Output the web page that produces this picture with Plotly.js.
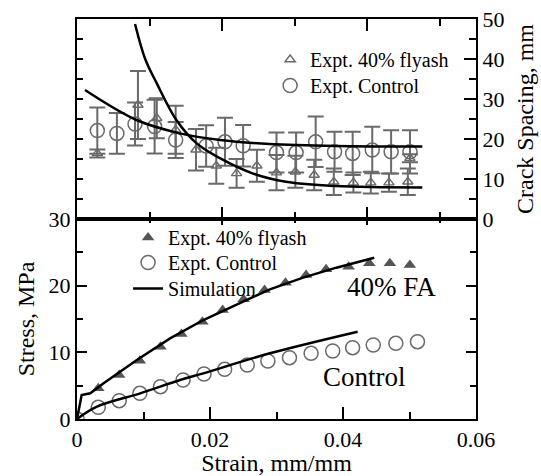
<!DOCTYPE html>
<html>
<head>
<meta charset="utf-8">
<script src="https://cdn.plot.ly/plotly-3.0.1.min.js"></script>
<style>html,body{margin:0;padding:0;background:#fff;}#chart{width:541px;height:476px;}</style>
</head>
<body>
<div id="chart"></div>
<script>
// ---------- Bottom panel: stress vs strain ----------
var faStrain   = [0.0032, 0.00635, 0.00945, 0.01255, 0.0157, 0.01885, 0.0219, 0.02505, 0.0282, 0.03135, 0.03445, 0.03745, 0.04085, 0.04395, 0.04705, 0.05005];
var faStress   = [4.6, 6.6, 8.75, 10.85, 12.75, 14.6, 16.35, 17.95, 19.35, 20.45, 21.6, 22.45, 22.85, 23.35, 23.35, 23.1];
var ctlStrain  = [0, 0.0032, 0.00635, 0.00945, 0.01255, 0.01595, 0.0191, 0.0222, 0.0256, 0.0287, 0.03195, 0.0352, 0.03845, 0.04145, 0.04455, 0.04795, 0.0512];
var ctlStress  = [0, 1.75, 2.75, 3.85, 4.85, 5.85, 6.75, 7.45, 8.1, 8.7, 9.2, 9.85, 10.2, 10.7, 11.1, 11.35, 11.6];
var simFaStrain  = [0, 0.0007, 0.002, 0.004, 0.009, 0.014, 0.019, 0.024, 0.029, 0.034, 0.039, 0.0447];
var simFaStress  = [0, 3.6, 3.85, 5.35, 8.85, 12.1, 14.85, 17.2, 19.45, 21.2, 22.7, 24.2];
var simCtlStrain = [0, 0.003, 0.0095, 0.0155, 0.019, 0.029, 0.0422];
var simCtlStress = [0, 1.85, 3.85, 5.85, 6.85, 9.85, 13.1];

// ---------- Top panel: crack spacing vs strain ----------
var csFaStrain  = [0.0028, 0.0084, 0.0110, 0.0136, 0.0164, 0.0192, 0.0220, 0.0248, 0.0275, 0.0301, 0.0327, 0.0354, 0.0381, 0.0405, 0.0430, 0.0456, 0.0459];
var csFaSpacing = [16.4, 28.5, 25.2, 22.3, 17.3, 13.3, 11.4, 13.3, 11.6, 11.8, 11.0, 9.3, 9.1, 9.1, 9.1, 9.3, 15.2];
var csFaErr     = [1.0, 8.5, 5.0, 6.0, 5.2, 4.5, 3.6, 4.0, 4.4, 4.0, 3.8, 3.3, 2.5, 2.7, 2.3, 3.3, 1.0];
var csCtlStrain  = [0.0028, 0.0055, 0.0080, 0.0107, 0.0136, 0.0178, 0.0204, 0.0229, 0.0275, 0.0302, 0.0329, 0.0355, 0.0380, 0.0407, 0.0433, 0.0459];
var csCtlSpacing = [22.1, 21.4, 23.75, 23.1, 19.75, 18.25, 19.3, 18.3, 16.6, 16.6, 19.3, 16.8, 16.4, 17.25, 16.8, 16.8];
var csCtlErr     = [5.8, 5.1, 5.4, 6.7, 4.5, 5.2, 6.0, 5.2, 5.0, 5.0, 6.3, 5.0, 5.4, 5.8, 5.4, 5.4];
var csSimCtlStrain  = [0.0011, 0.0082, 0.0142, 0.0197, 0.0265, 0.0357, 0.0476];
var csSimCtlSpacing = [32.25, 24.75, 21.4, 19.75, 18.75, 18.25, 18.1];
var csSimFaStrain  = [0.0080, 0.0094, 0.0110, 0.0137, 0.0165, 0.0197, 0.0242, 0.0288, 0.0357, 0.0476];
var csSimFaSpacing = [48.75, 40.0, 33.9, 24.75, 18.9, 15.2, 11.4, 9.3, 8.25, 7.9];

var xTickVals = [0, 0.02, 0.04, 0.06];
var xTickText = ['0', '0.02', '0.04', '0.06'];

var FONT = 'Liberation Serif';
var GRAY = '#6a6a6a';
var ERR = {type: 'data', visible: true, color: '#6a6a6a', thickness: 2, width: 8};

var traces = [
  // top panel
  {x: csCtlStrain, y: csCtlSpacing, xaxis: 'x2', yaxis: 'y2', mode: 'markers', name: 'Expt. Control', legend: 'legend2',
   marker: {symbol: 'circle-open', size: 14, color: GRAY, line: {width: 1.5, color: GRAY}},
   error_y: Object.assign({array: csCtlErr}, ERR)},
  {x: csFaStrain, y: csFaSpacing, xaxis: 'x2', yaxis: 'y2', mode: 'markers', name: 'Expt. 40% flyash', legend: 'legend',
   marker: {symbol: 'triangle-up-open', size: 9, color: GRAY, line: {width: 1.4, color: GRAY}},
   error_y: Object.assign({array: csFaErr}, ERR)},
  {x: csSimCtlStrain, y: csSimCtlSpacing, xaxis: 'x2', yaxis: 'y2', mode: 'lines', showlegend: false,
   line: {color: '#000', width: 2.5, shape: 'spline'}},
  {x: csSimFaStrain, y: csSimFaSpacing, xaxis: 'x2', yaxis: 'y2', mode: 'lines', showlegend: false,
   line: {color: '#000', width: 2.5, shape: 'spline'}},
  // empty helpers so the right axis and the crossing ticks are drawn
  {x: [null], y: [null], xaxis: 'x2', yaxis: 'y3', showlegend: false, hoverinfo: 'skip'},
  {x: [null], y: [null], xaxis: 'x3', yaxis: 'y', showlegend: false, hoverinfo: 'skip'},
  // bottom panel
  {x: faStrain, y: faStress, xaxis: 'x', yaxis: 'y', mode: 'markers', name: 'Expt. 40% flyash', legend: 'legend3',
   marker: {symbol: 'triangle-up', size: 11, color: '#555', line: {width: 0}}},
  {x: ctlStrain, y: ctlStress, xaxis: 'x', yaxis: 'y', mode: 'markers', name: 'Expt. Control', legend: 'legend4',
   marker: {symbol: 'circle-open', size: 14, color: GRAY, line: {width: 1.5, color: GRAY}}},
  {x: simFaStrain, y: simFaStress, xaxis: 'x', yaxis: 'y', mode: 'lines', name: 'Simulation', legend: 'legend5',
   line: {color: '#000', width: 2.5}},
  {x: simCtlStrain, y: simCtlStress, xaxis: 'x', yaxis: 'y', mode: 'lines', showlegend: false,
   line: {color: '#000', width: 2.5, shape: 'spline'}}
];

var tickFont = {family: FONT, size: 22, color: '#000'};
var titleFont = {family: FONT, size: 24, color: '#000'};
function leg(x, y) {
  return {x: x, y: y, xanchor: 'left', yanchor: 'top', bgcolor: 'rgba(0,0,0,0)',
    font: {family: FONT, size: 20, color: '#000'}};
}

var layout = {
  width: 541, height: 476,
  margin: {l: 77, r: 65, t: 19, b: 57},
  paper_bgcolor: '#fff', plot_bgcolor: '#fff',
  font: {family: FONT, color: '#000'},
  xaxis: {domain: [0, 1], anchor: 'y', range: [0, 0.06], tickvals: xTickVals, ticktext: xTickText,
    ticks: 'inside', ticklen: 12, tickwidth: 2, tickcolor: '#000',
    minor: {dtick: 0.01, tick0: 0, ticks: 'inside', ticklen: 7, tickwidth: 2, tickcolor: '#000'},
    showline: true, linewidth: 2, linecolor: '#000', mirror: true, showgrid: false, zeroline: false,
    tickfont: tickFont, title: {text: 'Strain, mm/mm', font: titleFont, standoff: 2}},
  yaxis: {domain: [0, 0.5], anchor: 'x', range: [0, 30], dtick: 10, tick0: 0,
    ticks: 'inside', ticklen: 10, tickwidth: 2, tickcolor: '#000',
    minor: {dtick: 5, ticks: 'inside', ticklen: 6, tickwidth: 2, tickcolor: '#000'},
    showline: true, linewidth: 2, linecolor: '#000', mirror: 'ticks', showgrid: false, zeroline: false,
    tickfont: tickFont, title: {text: 'Stress, MPa', font: titleFont, standoff: 7}},
  xaxis2: {domain: [0, 1], anchor: 'y2', range: [0, 0.055], dtick: 0.02, tick0: 0, showticklabels: false,
    ticks: 'inside', ticklen: 12, tickwidth: 2, tickcolor: '#000',
    minor: {dtick: 0.01, tick0: 0, ticks: 'inside', ticklen: 7, tickwidth: 2, tickcolor: '#000'},
    showline: true, linewidth: 2, linecolor: '#000', mirror: 'ticks', showgrid: false, zeroline: false},
  xaxis3: {overlaying: 'x', anchor: 'y', side: 'top', range: [0, 0.055], dtick: 0.02, tick0: 0, showticklabels: false,
    ticks: 'inside', ticklen: 6, tickwidth: 2, tickcolor: '#000',
    minor: {dtick: 0.01, tick0: 0, ticks: 'inside', ticklen: 4, tickwidth: 2, tickcolor: '#000'},
    showline: false, showgrid: false, zeroline: false},
  yaxis2: {domain: [0.5, 1], anchor: 'x2', range: [0, 50], dtick: 5, tick0: 0, showticklabels: false,
    ticks: 'inside', ticklen: 6, tickwidth: 2, tickcolor: '#000',
    showline: true, linewidth: 2, linecolor: '#000', showgrid: false, zeroline: false},
  yaxis3: {overlaying: 'y2', anchor: 'x2', side: 'right', range: [0, 50], dtick: 10, tick0: 0,
    ticks: 'inside', ticklen: 12, tickwidth: 2, tickcolor: '#000',
    minor: {dtick: 5, ticks: 'inside', ticklen: 7, tickwidth: 2, tickcolor: '#000'},
    showline: true, linewidth: 2, linecolor: '#000', showgrid: false, zeroline: false,
    tickfont: tickFont, title: {text: 'Crack Spacing, mm', font: titleFont, standoff: 13}},
  legend: leg(0.484, 0.9475),
  legend2: leg(0.484, 0.8825),
  legend3: leg(0.128, 0.5025),
  legend4: leg(0.128, 0.44),
  legend5: leg(0.128, 0.375),
  annotations: [
    {x: 0.0473, y: 19.8, xref: 'x', yref: 'y', text: '40% FA', showarrow: false, font: {family: FONT, size: 27, color: '#000'}},
    {x: 0.0432, y: 6.3, xref: 'x', yref: 'y', text: 'Control', showarrow: false, font: {family: FONT, size: 27, color: '#000'}}
  ],
  showlegend: true
};

Plotly.newPlot('chart', traces, layout, {displayModeBar: false, staticPlot: true});
</script>
</body>
</html>
